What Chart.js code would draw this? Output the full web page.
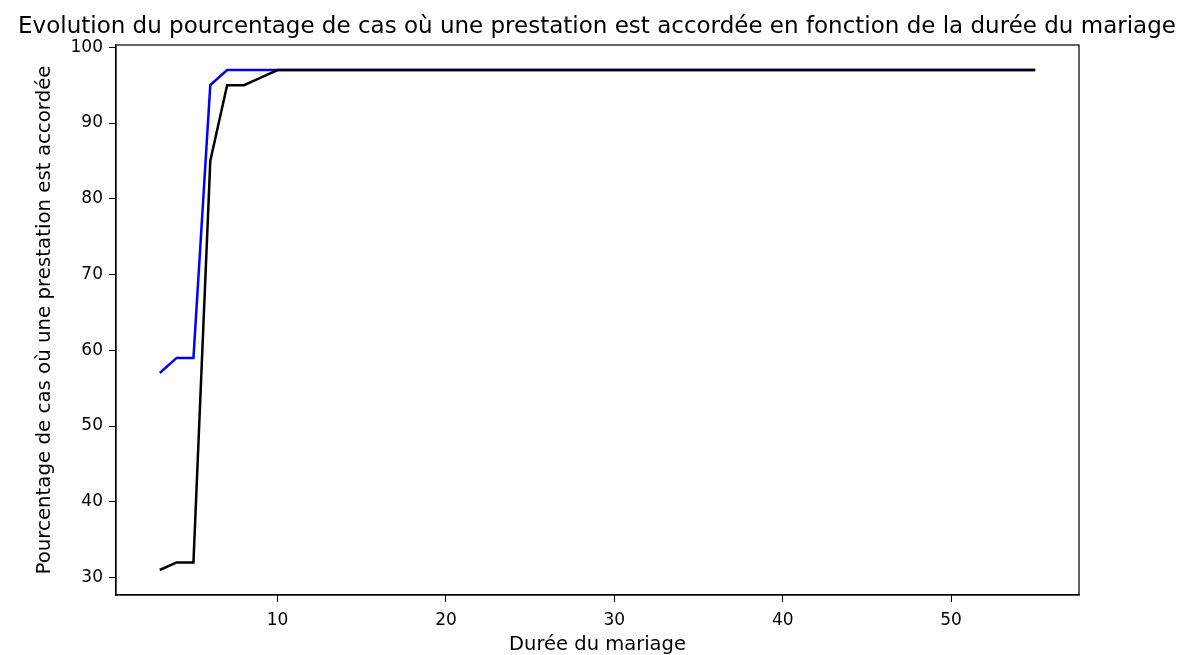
<!DOCTYPE html>
<html>
<head>
<meta charset="utf-8">
<script src="https://cdn.jsdelivr.net/npm/chart.js@4.4.0/dist/chart.umd.min.js"></script>
<style>
  body { margin: 0; background: #fff; }
  #wrap { width: 1188px; height: 655px; }
</style>
</head>
<body>
<div id="wrap"><canvas id="chart" width="1188" height="655"></canvas></div>
<script>
// durée du mariage (années)
const durees = [3, 4, 5, 6, 7, 8, 9, 10, 11, 12, 13, 14, 15, 16, 17, 18, 19, 20,
  21, 22, 23, 24, 25, 26, 27, 28, 29, 30, 31, 32, 33, 34, 35, 36, 37, 38, 39, 40,
  41, 42, 43, 44, 45, 46, 47, 48, 49, 50, 51, 52, 53, 54, 55];
// courbe bleue
const serieBleue = [57, 59, 59, 95, 97, 97, 97, 97, 97, 97, 97, 97, 97, 97, 97, 97, 97, 97,
  97, 97, 97, 97, 97, 97, 97, 97, 97, 97, 97, 97, 97, 97, 97, 97, 97, 97, 97, 97,
  97, 97, 97, 97, 97, 97, 97, 97, 97, 97, 97, 97, 97, 97, 97];
// courbe noire
const serieNoire = [31, 32, 32, 85, 95, 95, 96, 97, 97, 97, 97, 97, 97, 97, 97, 97, 97, 97,
  97, 97, 97, 97, 97, 97, 97, 97, 97, 97, 97, 97, 97, 97, 97, 97, 97, 97, 97, 97,
  97, 97, 97, 97, 97, 97, 97, 97, 97, 97, 97, 97, 97, 97, 97];
const xTicks = [10, 20, 30, 40, 50];
const yTicks = [30, 40, 50, 60, 70, 80, 90, 100];

const titre = 'Evolution du pourcentage de cas où une prestation est accordée en fonction de la durée du mariage';
const police = 'DejaVu Sans';

const cadre = {
  id: 'cadre',
  afterDraw(chart) {
    const { ctx, chartArea: a } = chart;
    ctx.save();
    ctx.strokeStyle = '#000';
    ctx.lineWidth = 1.2;
    ctx.strokeRect(a.left, a.top, a.right - a.left, a.bottom - a.top);
    ctx.fillStyle = '#000';
    ctx.font = '23px "' + police + '"';
    ctx.textAlign = 'center';
    ctx.textBaseline = 'middle';
    ctx.fillText(titre, 597, 27);
    ctx.restore();
  }
};

new Chart(document.getElementById('chart'), {
  type: 'line',
  data: {
    datasets: [
      {
        data: durees.map((x, i) => ({ x: x, y: serieBleue[i] })),
        borderColor: '#0000ff',
        borderWidth: 2.5,
        pointRadius: 0,
        tension: 0,
        order: 1
      },
      {
        data: durees.map((x, i) => ({ x: x, y: serieNoire[i] })),
        borderColor: '#000000',
        borderWidth: 2.5,
        pointRadius: 0,
        tension: 0,
        order: 0
      }
    ]
  },
  options: {
    responsive: false,
    animation: false,
    layout: { padding: { left: 0, top: 45, right: 109, bottom: 0 } },
    plugins: { legend: { display: false }, title: { display: false }, tooltip: { enabled: false } },
    scales: {
      x: {
        type: 'linear',
        min: 0.4,
        max: 57.6,
        afterBuildTicks: s => { s.ticks = xTicks.map(v => ({ value: v })); },
        afterFit: s => { s.height = 60; },
        grid: { drawOnChartArea: false, drawTicks: true, tickLength: 7, color: '#000' },
        border: { display: true, color: '#000', width: 1.2 },
        ticks: { color: '#000', font: { family: police, size: 17 }, padding: 8, maxRotation: 0 },
        title: { display: true, text: 'Durée du mariage', color: '#000', font: { family: police, size: 19.5, lineHeight: 1 }, padding: { top: 0, bottom: 0 } }
      },
      y: {
        type: 'linear',
        min: 27.7,
        max: 100.3,
        afterBuildTicks: s => { s.ticks = yTicks.map(v => ({ value: v })); },
        afterFit: s => { s.width = 116; },
        grid: { drawOnChartArea: false, drawTicks: true, tickLength: 7, color: '#000' },
        border: { display: true, color: '#000', width: 1.2 },
        ticks: { color: '#000', font: { family: police, size: 17 }, padding: 6 },
        title: { display: true, text: 'Pourcentage de cas où une prestation est accordée', color: '#000', font: { family: police, size: 19.8 }, padding: { top: 33, bottom: 0 } }
      }
    }
  },
  plugins: [cadre]
});
</script>
</body>
</html>
